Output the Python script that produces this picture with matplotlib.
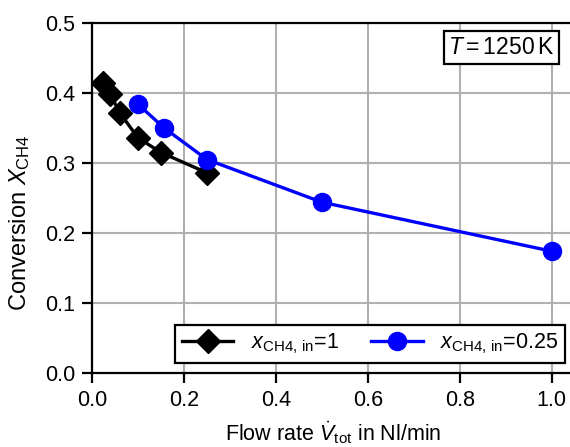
'''Conversion vs. flow rate at T = 1250 K.
'''
from matplotlib import pyplot as plt

# x_CH4,in = 1
flow_pure = [0.025, 0.04, 0.06, 0.10, 0.15, 0.25]
conv_pure = [0.415, 0.398, 0.372, 0.336, 0.315, 0.286]

# x_CH4,in = 0.25
flow_dil = [0.10, 0.157, 0.25, 0.50, 1.00]
conv_dil = [0.384, 0.350, 0.305, 0.244, 0.174]

plt.rcParams['font.family'] = ['Liberation Sans', 'DejaVu Sans']
plt.rcParams['mathtext.fontset'] = 'custom'
plt.rcParams['mathtext.rm'] = 'Liberation Sans'
plt.rcParams['mathtext.it'] = 'Liberation Sans:italic'
plt.rcParams['font.size'] = 15.5

fig = plt.figure(figsize=(5.70, 4.47), dpi=100)
# axes run past the right edge of the figure, as in the cropped original
ax = fig.add_axes([92 / 570, 1 - 373 / 447, 482 / 570, 350 / 447])

ax.plot(flow_pure, conv_pure, color='black', marker='D', markersize=12.5,
        linewidth=2.4, label=r'$x_\mathrm{CH4,\,in}$=1', zorder=3)
ax.plot(flow_dil, conv_dil, color='blue', marker='o', markersize=13,
        linewidth=2.4, label=r'$x_\mathrm{CH4,\,in}$=0.25', zorder=3)

# Axis limits
ax.set_xlim(0, 1.0485)
ax.set_ylim(0, 0.5)
ax.set_xticks([0.0, 0.2, 0.4, 0.6, 0.8, 1.0])
ax.set_yticks([0.0, 0.1, 0.2, 0.3, 0.4, 0.5])
ax.grid(True, color='#b0b0b0', linewidth=1.5)
ax.set_axisbelow(True)
for spine in ax.spines.values():
    spine.set_linewidth(1.6)
ax.tick_params(width=1.6, length=7, pad=5)

# Labels
ax.set_xlabel(r'Flow rate $\dot{V}_\mathrm{tot}$ in Nl/min', fontsize=15.5,
              labelpad=6)
ax.set_ylabel(r'Conversion $X_\mathrm{CH4}$', fontsize=17)
ax.yaxis.set_label_coords(-0.125, 0.43)

ax.text(0.959, 0.963, r'$T = 1250\,$K', transform=ax.transAxes,
        ha='right', va='top', fontsize=16.5,
        bbox=dict(boxstyle='square,pad=0.2', facecolor='white',
                  edgecolor='black', linewidth=1.6))

leg = ax.legend(loc='lower right', bbox_to_anchor=(0.981, 0.029), ncol=2,
                borderaxespad=0, fontsize=15.5,
                fancybox=False, edgecolor='black', framealpha=1,
                handlelength=2.4, columnspacing=1.5, borderpad=0.3)
leg.get_frame().set_linewidth(1.6)

fig.savefig('out.png', dpi=100)
